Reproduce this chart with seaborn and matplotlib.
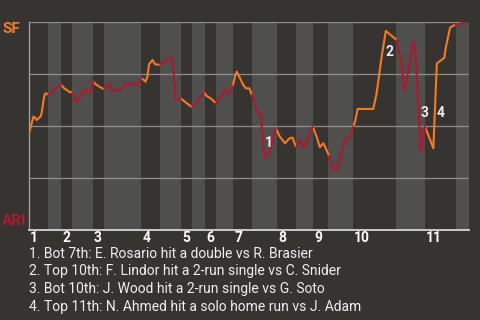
import numpy as np
import pandas as pd
import matplotlib
matplotlib.use("Agg")
import matplotlib.pyplot as plt
import seaborn as sns

# ---- data ----------------------------------------------------------------
# play position along the game (0-100 scale) and SF win probability (%)
play_pos = [0.0, 0.2, 0.7, 1.0, 1.4, 1.75, 2.2, 2.7, 3.0, 3.25, 3.6, 4.0, 4.4,
            5.0, 6.1, 6.9, 7.3,
            8.0, 8.8, 9.2, 9.9,
            10.5, 10.8, 11.8, 12.8, 13.6, 13.9, 14.6,
            15.2, 16.0, 17.1,
            18.1, 18.9, 20.9, 21.9, 23.6, 24.7, 25.5,
            26.1, 26.5, 26.9, 27.3, 28.1, 28.6, 29.8,
            30.9, 31.9, 32.4, 32.8, 33.3, 33.8, 34.5,
            35.1, 36.2, 37.1,
            38.5, 39.8,
            40.4, 41.5, 42.5,
            43.4, 44.5, 45.3, 46.3,
            46.8, 47.2, 47.8, 48.7, 49.3, 50.1, 50.6,
            51.4, 51.7, 52.6, 52.9, 53.25, 53.5, 54.2, 54.8, 55.5, 56.1,
            57.0, 58.2, 59.2, 59.9, 60.7,
            61.6, 62.5, 63.5, 64.5,
            65.4, 66.1, 66.9, 67.7, 68.2,
            69.0, 70.1, 70.8, 72.0, 72.95, 73.7,
            74.1, 74.7, 78.25, 79.0, 80.2, 81.1, 83.6,
            84.7, 85.3, 86.2, 87.3, 87.9, 88.3, 88.7, 89.0, 89.6, 90.0,
            91.9, 92.3, 92.7, 94.4, 94.7, 95.7, 96.4, 97.0,
            98.3, 100.0]
sf_win_pct = [46.2, 48.1, 52.1, 54.5, 54.0, 52.9, 53.7, 54.8, 57.7, 61.7, 65.4, 65.7, 64.9,
              65.7, 68.1, 69.4, 69.9,
              68.1, 67.0, 66.3, 66.2,
              62.5, 61.4, 65.2, 67.6, 65.7, 66.5, 71.3,
              70.0, 68.9, 67.6,
              70.0, 67.0, 67.0, 70.2, 70.2, 69.2, 73.1,
              72.1, 71.3, 73.7, 79.8, 81.7, 79.8, 79.3,
              81.3, 82.8, 82.5, 77.7, 62.8, 62.2, 63.3,
              62.2, 60.4, 59.0,
              62.5, 66.2,
              64.4, 63.0, 60.9,
              63.3, 67.3, 65.4, 69.2,
              73.7, 76.1, 73.7, 69.7, 68.1, 68.1, 64.9,
              61.1, 56.7, 56.5, 49.7, 40.9, 34.8, 36.1, 38.5, 44.1, 48.9,
              44.9, 41.7, 44.1, 44.4, 39.8,
              43.3, 39.4, 44.9, 49.7,
              44.6, 39.8, 41.7, 38.1, 35.6,
              28.8, 28.8, 35.2, 44.1, 44.1, 49.7,
              52.1, 58.2, 58.2, 65.7, 84.1, 95.7, 91.3,
              79.3, 66.8, 76.1, 90.5, 85.7, 68.1, 50.5, 37.6, 42.5, 49.7,
              39.3, 60.1, 80.1, 82.8, 87.4, 97.3, 98.2, 98.6,
              99.4, 100.0]

# half-inning boundaries (top 1st, bot 1st, top 2nd, ...) on the same scale
half_bounds = [0.0, 4.3, 7.3, 9.8, 14.5, 17.0, 25.5, 29.8, 34.5, 37.0, 40.0,
               42.5, 46.4, 50.7, 56.4, 60.7, 64.5, 68.0, 73.6, 83.4, 90.0,
               97.0, 100.0]
innings = ["1", "2", "3", "4", "5", "6", "7", "8", "9", "10", "11"]

event_labels = ["1", "2", "3", "4"]
event_pos = [54.5, 81.9, 89.8, 93.6]
event_pct = [40.0, 83.8, 54.2, 54.5]

notes = ["1. Bot 7th: E. Rosario hit a double vs R. Brasier",
         "2. Top 10th: F. Lindor hit a 2-run single vs C. Snider",
         "3. Bot 10th: J. Wood hit a 2-run single vs G. Soto",
         "4. Top 11th: N. Ahmed hit a solo home run vs J. Adam"]

teams = ["SF", "ARI"]

# ---- style ----------------------------------------------------------------
BG = "#363431"
BAND = "#4f4f4e"
ORANGE = "#f67a1e"
RED = "#b3172f"

sns.set_theme(style="dark")
plt.rcParams["font.family"] = ["Roboto", "DejaVu Sans"]

fig = plt.figure(figsize=(4.8, 3.2), dpi=100)
fig.patch.set_facecolor(BG)
ax = fig.add_axes([29 / 480, 90 / 320, 440 / 480, 208 / 320])
ax.set_facecolor(BG)

# alternating half-inning bands (bottom halves lighter)
for i in range(1, len(half_bounds) - 1, 2):
    ax.axvspan(half_bounds[i], half_bounds[i + 1], color=BAND, lw=0, zorder=0)

# build coloured segments: top halves SF (orange), bottom halves ARI (red)
x = np.array(play_pos)
y = np.array(sf_win_pct)
mids = (x[:-1] + x[1:]) / 2
half_idx = np.searchsorted(half_bounds, mids, side="right") - 1
rows = []
seg = 0
start = 0
for k in range(1, len(mids) + 1):
    if k == len(mids) or half_idx[k] != half_idx[start]:
        team = teams[half_idx[start] % 2]
        for j in range(start, k + 1):
            rows.append({"pos": x[j], "pct": y[j], "seg": seg, "team": team})
        seg += 1
        start = k
df = pd.DataFrame(rows)

sns.lineplot(data=df, x="pos", y="pct", units="seg", estimator=None,
             hue="team", palette={"SF": ORANGE, "ARI": RED}, sort=False,
             legend=False, lw=1.5, ax=ax, zorder=3)

ax.set_xlim(0, 100)
ax.set_ylim(0, 100)
ax.set_yticks([25, 50, 75, 100])
ax.set_xticks([])
ax.set_yticklabels([])
ax.tick_params(length=0)
ax.grid(axis="y", color="#8f8f8f", lw=0.9, zorder=1)
ax.grid(axis="x", visible=False)
ax.set_axisbelow(False)
ax.set_xlabel("")
ax.set_ylabel("")
for s in ["top", "right"]:
    ax.spines[s].set_visible(False)
ax.spines["left"].set_color("#a8a8a8")
ax.spines["left"].set_linewidth(0.9)
ax.spines["bottom"].set_color("#d6d6d6")
ax.spines["bottom"].set_linewidth(1.3)

# inning labels
for i, lab in enumerate(innings):
    ax.text(half_bounds[2 * i] + 0.25, -0.057, lab, transform=ax.get_xaxis_transform(),
            ha="left", va="baseline", color="white", fontsize=10, fontweight="bold")

# event markers
for lab, px, py in zip(event_labels, event_pos, event_pct):
    ax.text(px, py, lab, ha="center", va="baseline", color="#ececec",
            fontsize=10, fontweight="bold", zorder=5)

# team labels
fig.text(2.5 / 480, 1 - 33 / 320, teams[0], color=ORANGE, fontsize=11,
         fontweight="bold", ha="left", va="baseline")
fig.text(1.5 / 480, 1 - 225 / 320, teams[1], color=RED, fontsize=11,
         fontweight="bold", ha="left", va="baseline")

# footnotes
for i, t in enumerate(notes):
    fig.text(29 / 480, 1 - (257.7 + 17.75 * i) / 320, t, color="#f0f0f0",
             fontsize=10, ha="left", va="baseline")

fig.savefig("out.png", dpi=100, facecolor=BG)
